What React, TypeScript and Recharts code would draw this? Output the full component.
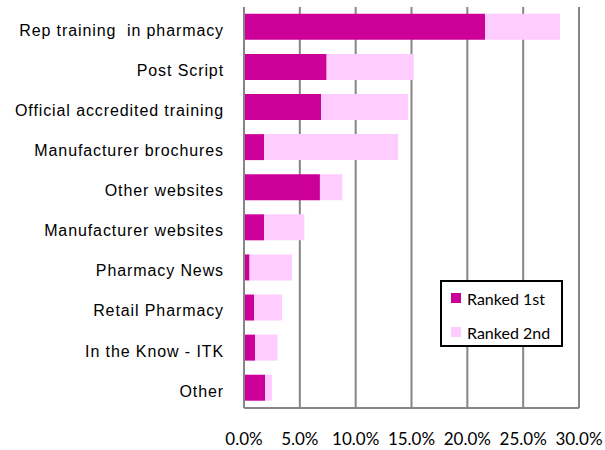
import React from 'react';
import { BarChart, Bar, XAxis, YAxis, CartesianGrid } from 'recharts';

const categories = [
  'Rep training \u00A0in pharmacy',
  'Post Script',
  'Official accredited training',
  'Manufacturer brochures',
  'Other websites',
  'Manufacturer websites',
  'Pharmacy News',
  'Retail Pharmacy',
  'In the Know - ITK',
  'Other',
];
const ranked1st = [21.6, 7.4, 6.9, 1.8, 6.8, 1.8, 0.5, 0.9, 1.0, 1.9];
const ranked2nd = [6.7, 7.8, 7.8, 12.0, 2.0, 3.6, 3.8, 2.5, 2.0, 0.6];
const xTicks = [0, 5, 10, 15, 20, 25, 30];

const data = categories.map((name, i) => ({
  name,
  first: ranked1st[i],
  second: ranked2nd[i],
}));

const DARK = '#CC0099';
const LIGHT = '#FFCCFF';
const GRID = '#868686';

const series = [
  { label: 'Ranked 1st', color: DARK },
  { label: 'Ranked 2nd', color: LIGHT },
];

const LegendBox = () => (
  <div
    style={{
      position: 'absolute',
      left: 440,
      top: 280,
      width: 119,
      height: 63,
      border: '2px solid #000',
      background: '#fff',
      fontFamily: 'Lato, "Open Sans", sans-serif',
      fontSize: 16,
      color: '#000',
    }}
  >
    {series.map((it, i) => (
      <div
        key={it.label}
        style={{ position: 'absolute', left: 9, top: i === 0 ? 6 : 40, height: 20, display: 'flex', alignItems: 'center' }}
      >
        <span style={{ display: 'inline-block', width: 10, height: 10, background: it.color, marginRight: 6 }} />
        <span>{it.label}</span>
      </div>
    ))}
  </div>
);

const App = () => {
  return (
    <div style={{ position: 'absolute', left: 0, top: 0, width: 605, height: 450, background: '#fff' }}>
      <BarChart
        width={605}
        height={450}
        data={data}
        layout="vertical"
        margin={{ top: 7, right: 26, bottom: 0, left: 0 }}
        barCategoryGap="17%"
      >
        <CartesianGrid horizontal={false} vertical stroke={GRID} strokeWidth={2} />
        <XAxis
          type="number"
          domain={[0, 30]}
          ticks={xTicks}
          tickFormatter={(v: number) => v.toFixed(1) + '%'}
          axisLine={{ stroke: GRID, strokeWidth: 2 }}
          tickLine={false}
          tickSize={0}
          tickMargin={25}
          height={42}
          tick={{ fill: '#000', fontSize: 17, fontFamily: 'Lato, "Open Sans", sans-serif' }}
          interval={0}
        />
        <YAxis
          type="category"
          dataKey="name"
          width={244}
          axisLine={{ stroke: GRID, strokeWidth: 2 }}
          tickLine={false}
          tickSize={0}
          tickMargin={20}
          tick={{
            fill: '#000',
            fontSize: 16,
            letterSpacing: 0.9,
            dy: 3,
            fontFamily: '"Liberation Sans", Arial, sans-serif',
          }}
          interval={0}
        />
        <Bar dataKey="first" name="Ranked 1st" stackId="a" fill={DARK} isAnimationActive={false} />
        <Bar dataKey="second" name="Ranked 2nd" stackId="a" fill={LIGHT} isAnimationActive={false} />
      </BarChart>
      <LegendBox />
    </div>
  );
};

export default App;
